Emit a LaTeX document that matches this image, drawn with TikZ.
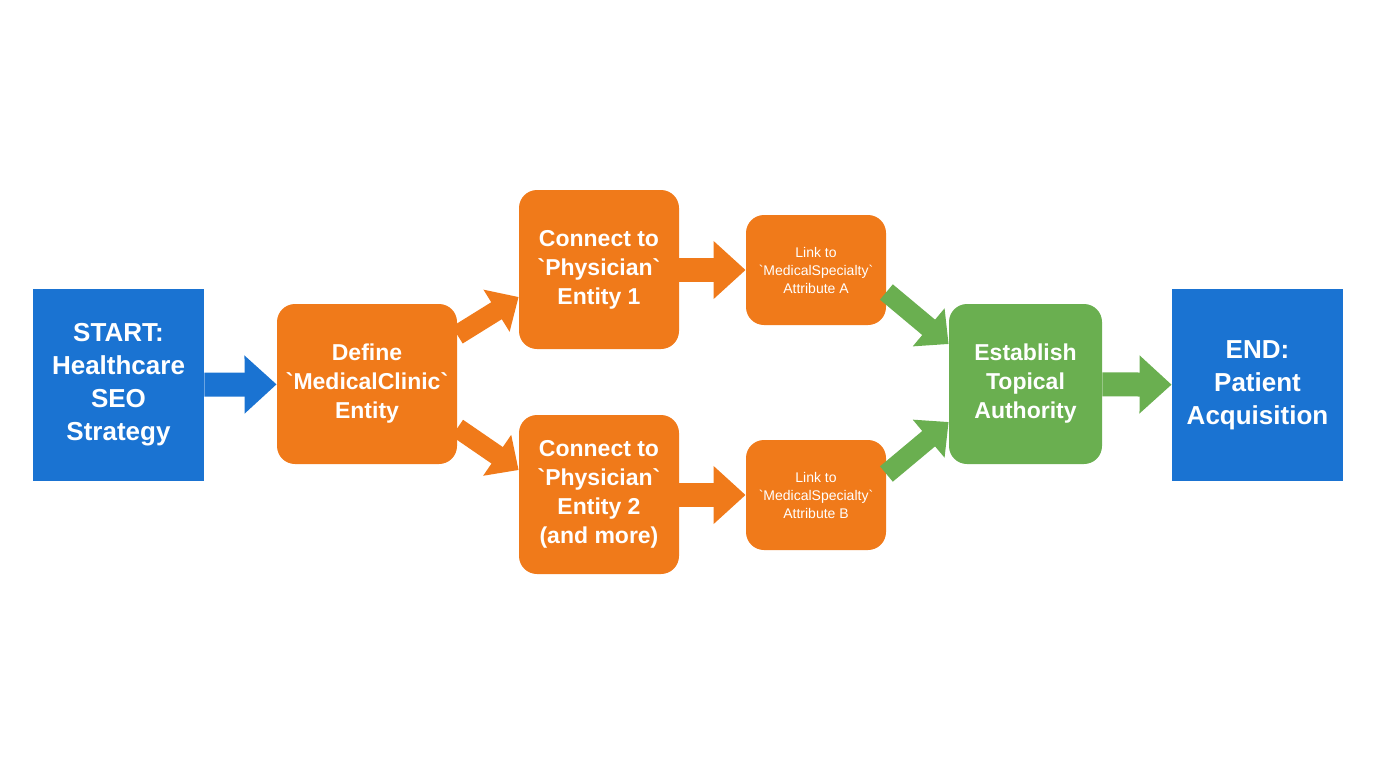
\documentclass[tikz,border=0pt]{standalone}
\usepackage{fontspec}
\setmainfont{Liberation Sans}
\usetikzlibrary{arrows.meta}
\definecolor{bl}{HTML}{1A73D2}
\definecolor{orn}{HTML}{F07A1A}
\definecolor{grn}{HTML}{6AAF50}
\begin{document}
\begin{tikzpicture}[x=0.5pt,y=-0.5pt,
  box/.style={draw=none,text=white,font=\bfseries,align=center,inner sep=0pt},
  sq/.style={box,fill=bl,minimum width=85.5pt,minimum height=96pt,font=\bfseries\fontsize{13pt}{16.5pt}\selectfont},
  rb/.style={box,fill=orn,rounded corners=9pt},
  arr/.style={line width=12pt,-{Triangle[length=16pt,width=28pt]}},
  darr/.style={line width=10pt,-{Triangle[length=13pt,width=24pt]}}]
\useasboundingbox (0,0) rectangle (1376,768);
\node[sq] (s) at (118.5,385) {START:\\Healthcare\\SEO\\Strategy};
\node[sq] (e) at (1257.5,385) {END:\\Patient\\Acquisition};
\node[rb,minimum width=90pt,minimum height=80pt,font=\bfseries\fontsize{11.5pt}{14.5pt}\selectfont] (d) at (367,384) {Define\\\textasciigrave MedicalClinic\textasciigrave\\Entity};
\node[rb,minimum width=80pt,minimum height=79.5pt,font=\bfseries\fontsize{11.5pt}{14.5pt}\selectfont] (c1) at (599,269.5) {Connect to\\\textasciigrave Physician\textasciigrave\\Entity 1};
\node[rb,minimum width=80pt,minimum height=79.5pt,font=\bfseries\fontsize{11.5pt}{14.5pt}\selectfont] (c2) at (599,494.5) {Connect to\\\textasciigrave Physician\textasciigrave\\Entity 2\\(and more)};
\node[rb,minimum width=70pt,minimum height=55pt,font=\fontsize{7pt}{9pt}\selectfont] (la) at (816,270) {Link to\\\textasciigrave MedicalSpecialty\textasciigrave\\Attribute A};
\node[rb,minimum width=70pt,minimum height=55pt,font=\fontsize{7pt}{9pt}\selectfont] (lb) at (816,495) {Link to\\\textasciigrave MedicalSpecialty\textasciigrave\\Attribute B};
\node[box,fill=grn,rounded corners=9pt,minimum width=76.5pt,minimum height=80pt,font=\bfseries\fontsize{11.5pt}{14.5pt}\selectfont] (t) at (1025.5,384) {Establish\\Topical\\Authority};
\draw[arr,bl] (s) -- (d);
\draw[darr,orn] (d.east |- 0,335) -- (c1.west |- 0,297);
\draw[darr,orn] (d.east |- 0,428) -- (c2.west |- 0,470);
\draw[arr,orn] (c1.east |- la) -- (la);
\draw[arr,orn] (c2.east |- lb) -- (lb);
\draw[darr,grn] (la.east |- 0,292) -- (t.west |- 0,344);
\draw[darr,grn] (lb.east |- 0,474) -- (t.west |- 0,422);
\draw[arr,grn] (t) -- (e);
\end{tikzpicture}
\end{document}
